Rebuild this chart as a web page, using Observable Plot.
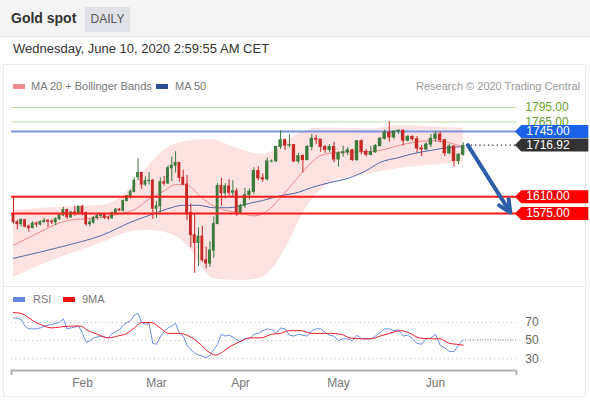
<!DOCTYPE html>
<html><head><meta charset="utf-8">
<script src="https://cdn.jsdelivr.net/npm/d3@7"></script>
<script src="https://cdn.jsdelivr.net/npm/@observablehq/plot@0.6"></script>
<style>
body{margin:0;width:590px;height:400px;position:relative;overflow:hidden;background:#fff;font-family:"Liberation Sans",Arial,sans-serif;}
.abs{position:absolute;white-space:nowrap;}
#hdr{left:0;top:0;width:590px;height:36px;background:#f4f4f4;border-bottom:1px solid #e4e4e4;}
#title{left:11px;top:10px;font-size:14px;font-weight:bold;color:#333;}
#badge{left:85px;top:7px;width:45px;height:25px;line-height:25px;text-align:center;background:#e0e2e7;color:#555;font-size:12px;}
#date{left:13px;top:41px;font-size:13px;color:#333;}
#panel{left:3px;top:64px;width:583px;height:333px;border:1px solid #ececec;box-sizing:border-box;}
#sep{left:3px;top:286px;width:583px;height:1px;background:#ececec;}
.leg{font-size:11px;color:#777;line-height:13px;}
.sw{position:absolute;width:12px;height:5px;}
#main{left:0;top:97px;}
#rsi{left:0;top:287px;}
</style></head>
<body>
<div id="hdr" class="abs"></div>
<div id="title" class="abs">Gold spot</div>
<div id="badge" class="abs">DAILY</div>
<div id="date" class="abs">Wednesday, June 10, 2020 2:59:55 AM CET</div>
<div id="panel" class="abs"></div>
<div id="sep" class="abs"></div>
<div class="abs sw" style="left:13px;top:84px;background:#f28b8b"></div>
<div class="abs leg" style="left:31px;top:80px">MA 20 + Bollinger Bands</div>
<div class="abs sw" style="left:156px;top:84px;background:#2d4f93"></div>
<div class="abs leg" style="left:175px;top:80px">MA 50</div>
<div class="abs leg" style="right:10px;top:80px;color:#9a9a9a">Research © 2020 Trading Central</div>
<div class="abs sw" style="left:13px;top:297px;background:#6688e0"></div>
<div class="abs leg" style="left:33px;top:293px">RSI</div>
<div class="abs sw" style="left:63px;top:297px;background:#ee1111"></div>
<div class="abs leg" style="left:82px;top:293px">9MA</div>
<div id="main" class="abs"></div>
<div id="rsi" class="abs"></div>
<script>
// ---- data ----
// daily candles [open, high, low, close], Jan 8 .. Jun 9 2020 (trading-day index)
const ohlc = [
[1574,1611,1553,1557],[1557,1561,1541,1553],[1553,1563,1547,1562],[1561,1563,1545,1548],[1548,1551,1536,1545],
[1545,1558,1543,1554],[1554,1557,1546,1552],[1552,1560,1549,1557],[1557,1565,1555,1560],[1560,1562,1546,1558],
[1558,1562,1552,1557],[1557,1566,1550,1563],[1563,1573,1561,1571],[1571,1588,1569,1582],[1582,1584,1563,1567],
[1567,1579,1565,1577],[1577,1590,1569,1575],[1575,1589,1572,1589],
[1589,1592,1570,1576],[1576,1578,1549,1553],[1553,1562,1547,1556],[1556,1569,1553,1566],[1566,1574,1561,1570],
[1570,1575,1566,1572],[1572,1574,1562,1566],[1566,1569,1561,1565],[1565,1578,1563,1576],[1576,1585,1573,1583],
[1583,1585,1579,1581],[1581,1603,1578,1601],[1601,1612,1599,1611],[1611,1624,1605,1620],[1620,1649,1618,1643],
[1650,1689,1643,1659],[1659,1661,1625,1635],[1635,1651,1631,1642],[1642,1660,1634,1643],[1643,1646,1563,1585],
[1585,1600,1565,1590],[1590,1649,1576,1640],[1640,1652,1632,1637],[1637,1674,1636,1669],[1669,1692,1641,1674],
[1674,1703,1659,1680],[1680,1681,1640,1649],[1649,1665,1633,1635],[1635,1654,1560,1576],[1576,1595,1504,1530],
[1530,1575,1451,1514],[1514,1545,1465,1527],[1527,1548,1474,1478],[1478,1505,1460,1471],[1471,1516,1463,1498],
[1498,1568,1482,1553],[1553,1637,1552,1632],[1632,1648,1590,1617],[1617,1637,1605,1631],[1631,1645,1611,1618],
[1618,1643,1610,1621],[1621,1627,1569,1577],
[1577,1594,1574,1591],[1591,1627,1586,1613],[1613,1626,1603,1620],[1620,1670,1614,1663],[1663,1672,1643,1648],
[1648,1657,1640,1646],[1646,1690,1642,1683],[1683,1686,1680,1683],[1683,1715,1681,1713],[1713,1747,1708,1727],
[1727,1730,1706,1716],[1716,1738,1711,1717],[1717,1718,1681,1683],[1683,1700,1678,1694],[1694,1697,1659,1686],
[1686,1716,1684,1713],[1713,1739,1705,1730],[1730,1737,1718,1728],[1728,1729,1702,1713],[1713,1716,1700,1707],
[1707,1718,1701,1713],[1713,1723,1681,1687],
[1687,1703,1671,1700],[1700,1715,1692,1702],[1702,1712,1695,1706],[1706,1708,1683,1686],[1686,1726,1683,1725],
[1725,1728,1697,1703],[1703,1708,1692,1697],[1697,1714,1694,1702],[1702,1718,1700,1715],[1715,1733,1713,1730],
[1730,1748,1727,1743],[1743,1765,1723,1733],[1733,1746,1728,1745],[1745,1748,1739,1747],[1747,1748,1715,1726],
[1726,1737,1724,1734],[1734,1736,1725,1729],[1729,1735,1701,1710],[1710,1716,1693,1708],[1708,1722,1705,1718],
[1718,1739,1712,1730],
[1730,1745,1723,1739],[1739,1745,1721,1727],[1727,1729,1693,1700],[1700,1719,1697,1714],[1714,1715,1671,1684],
[1684,1699,1676,1697],[1697,1722,1694,1715]
];
// month labels at first trading day index
const monthIdx = [18, 38, 60, 82, 103];
const monthLabels = ["Feb", "Mar", "Apr", "May", "Jun"];
// Bollinger band (MA 20 ± 2σ), sampled
const bandIdx = [0,10,23,29,35,41,47,50,53,56,60,63,65,68,71,74,77,80,83,89,95,102,109];
const bandHi  = [1582,1587,1592,1612,1666,1712,1726,1728,1728,1720,1708,1700,1698,1708,1728,1745,1752,1752,1752,1750,1757,1755,1752];
const bandLo  = [1442,1477,1513,1533,1540,1534,1500,1462,1440,1437,1436,1438,1442,1470,1518,1575,1615,1638,1648,1658,1668,1675,1680];
const ma20Idx = [0,5,14,23,28,32,36,40,43,46,49,52,56,60,63,66,69,72,75,78,82,87,91,95,99,102,106,109];
const ma20    = [1509,1529,1560,1567,1574,1583,1605,1622,1635,1634,1614,1595,1582,1576,1570,1580,1608,1640,1672,1695,1702,1703,1706,1716,1724,1726,1722,1712];
const ma50Idx = [0,14,23,32,36,41,45,49,53,57,62,65,69,73,76,80,84,88,91,95,98.5,102,106,109];
const ma50    = [1482,1509,1529,1560,1571,1585,1592,1592,1587,1587,1596,1602,1612,1619,1629,1639,1648,1664,1681,1691,1700,1706,1712,1714];
// key levels
const resistLevels = [1795, 1765];
const pivotLevel = 1745;
const supportLevels = [1610, 1575];
const lastPrice = 1716.92;
const targetPrice = 1577;
// RSI (14) per candle and its 9-period MA
const rsi = [75,75,73,66,63,63,63,64,66,67,68,69,70,74,63,64,65,66,58,48,
50,53,54,55,54,53,58,60,62,67,70,72,78,80,70,68,69,47,46,54,
60,64,66,69,58,55,45,40,36,34,33,31,34,40,46,57,55,56,54,51,
49,52,52,57,58,61,63,62,58,64,63,56,55,57,56,55,61,63,63,59,
56,55,50,52,52,50,56,52,52,52,55,59,63,63,61,62,55,56,52,47,
46,52,53,57,45,42,38,38,45,51];
const ma9Idx = [0,2,3,5,7,10,12,15,17.5,19.5,22,25,27.5,30,32,34,36.5,39,41,44,46.5,49.5,51.5,53.5,55.5,57.5,60,62,64.5,67,69,71,73.5,76,78,80,82.5,84.5,87,89,91,93,95.5,97.5,99.5,102,104,106,107.5,109];
const ma9    = [81,80,78,72,68,64,65,66,66,61,57,53,55,58,64,70,70,64,58,58,55,46,38,34,38,44,49,53,53,57,58,61,61,58,58,58,57,53,52,52,55,58,61,58,53,52,52,47,46,45];
const rsiLevels = [70, 50, 30];

// ---- render ----
const GREEN = "#3b7a3b", RED = "#c62828";
const xLo = -0.5, xHi = 120.5;
const xScale = {type: "linear", domain: [0, 18, 38, 60, 82, 103], range: [13, 82, 156, 240, 338, 435]};
const font = {fontFamily: "Liberation Sans, Arial, sans-serif", fontSize: "12px", background: "transparent", overflow: "visible"};
const candles = ohlc.map(([o, h, l, c], i) => ({i, o, h, l, c, col: c >= o ? GREEN : RED}));
const band = bandIdx.map((i, k) => ({i, lo: bandLo[k], hi: bandHi[k]}));
const m20 = ma20Idx.map((i, k) => ({i, v: ma20[k]}));
const m50 = ma50Idx.map((i, k) => ({i, v: ma50[k]}));
const lastI = ohlc.length - 1;
const tags = [
  {v: pivotLevel, col: "#1a63e8"},
  {v: lastPrice, col: "#333333"},
  ...supportLevels.map(v => ({v, col: "#ff0000"}))
];
const tagSymbol = {draw(ctx) {
  ctx.moveTo(-1.5, 0); ctx.lineTo(5, -6.5); ctx.lineTo(72, -6.5); ctx.lineTo(72, 6.5); ctx.lineTo(5, 6.5); ctx.closePath();
}};

const main = Plot.plot({
  width: 590, height: 190, margin: 0, marginLeft: 11, marginRight: 74,
  style: font,
  x: {...xScale, axis: null},
  y: {domain: [1575, 1795], range: [116, 10], axis: null},
  color: {type: "identity"},
  marks: [
    Plot.areaY(band, {x: "i", y1: "lo", y2: "hi", fill: "#fde2e2", curve: "monotone-x"}),
    Plot.ruleY(resistLevels, {x1: xLo, x2: xHi, stroke: "#bcdca4", strokeWidth: 1}),
    Plot.ruleY([pivotLevel], {x1: xLo, x2: xHi, stroke: "#7893e0", strokeWidth: 2}),
    Plot.line(m50, {x: "i", y: "v", stroke: "#5066a6", strokeWidth: 1, curve: "monotone-x"}),
    Plot.line(m20, {x: "i", y: "v", stroke: "#f08a8a", strokeWidth: 1, curve: "monotone-x"}),
    Plot.ruleX(candles, {x: "i", y1: "l", y2: "h", stroke: "col", strokeWidth: 1}),
    Plot.rect(candles, {x1: d => d.i - 0.37, x2: d => d.i + 0.37, y1: "o", y2: "c", fill: "col", insetTop: -0.5, insetBottom: -0.5}),
    Plot.ruleY(supportLevels, {x1: xLo, x2: xHi, stroke: "#ff1a1a", strokeWidth: 2}),
    Plot.ruleY([lastPrice], {x1: lastI + 0.8, x2: xHi, stroke: "#333", strokeWidth: 1.3, strokeDasharray: "1.3,3"}),
    Plot.arrow([{a: lastI + 1, b: lastPrice, c: 119.2, d: targetPrice}], {x1: "a", y1: "b", x2: "c", y2: "d", stroke: "#2c5ea8", strokeWidth: 4, headLength: 5, headAngle: 50}),
    Plot.text(resistLevels, {x: xHi, y: d => d, text: d => d.toFixed(2), dx: 9, textAnchor: "start", fill: "#6b9e2f", fontSize: 12}),
    Plot.dot(tags, {x: xHi, y: "v", fill: "col", symbol: tagSymbol, r: 5}),
    Plot.text(tags, {x: xHi, y: "v", text: d => d.v.toFixed(2), dx: 10, textAnchor: "start", fill: "white", fontSize: 12})
  ]
});
document.getElementById("main").appendChild(main);

const rsiData = rsi.map((v, i) => ({i, v}));
const ma9Data = ma9Idx.map((i, k) => ({i, v: ma9[k]}));
const axisY = 17;
const rsiPlot = Plot.plot({
  width: 590, height: 110, margin: 0, marginLeft: 11, marginRight: 74,
  style: font,
  x: {...xScale, axis: null},
  y: {domain: [axisY, 70], range: [83, 35], axis: null},
  marks: [
    Plot.ruleY(rsiLevels, {x1: xLo, x2: xHi, stroke: "#c4c4c4", strokeWidth: 1, strokeDasharray: "1.2,3"}),
    Plot.ruleY([rsi[lastI]], {x1: lastI + 0.5, x2: xHi, stroke: "#999", strokeWidth: 1, strokeDasharray: "1,1.5"}),
    Plot.text(rsiLevels, {x: xHi, y: d => d, text: d => String(d), dx: 9, textAnchor: "start", fill: "#666", fontSize: 12}),
    Plot.line(rsiData, {x: "i", y: "v", stroke: "#6d8ee6", strokeWidth: 1}),
    Plot.line(ma9Data, {x: "i", y: "v", stroke: "#ee1b2b", strokeWidth: 1, curve: "monotone-x"}),
    Plot.ruleY([axisY], {x1: xLo, x2: xHi, stroke: "#b0b0b0", strokeWidth: 2}),
    Plot.ruleX([xLo, xHi], {y1: axisY, y2: axisY - 5.5, stroke: "#b0b0b0", strokeWidth: 2}),
    Plot.text(monthIdx, {x: d => d, y: axisY, text: (d, k) => monthLabels[k], dy: 13, fill: "#777", fontSize: 12})
  ]
});
document.getElementById("rsi").appendChild(rsiPlot);
</script>
</body></html>
